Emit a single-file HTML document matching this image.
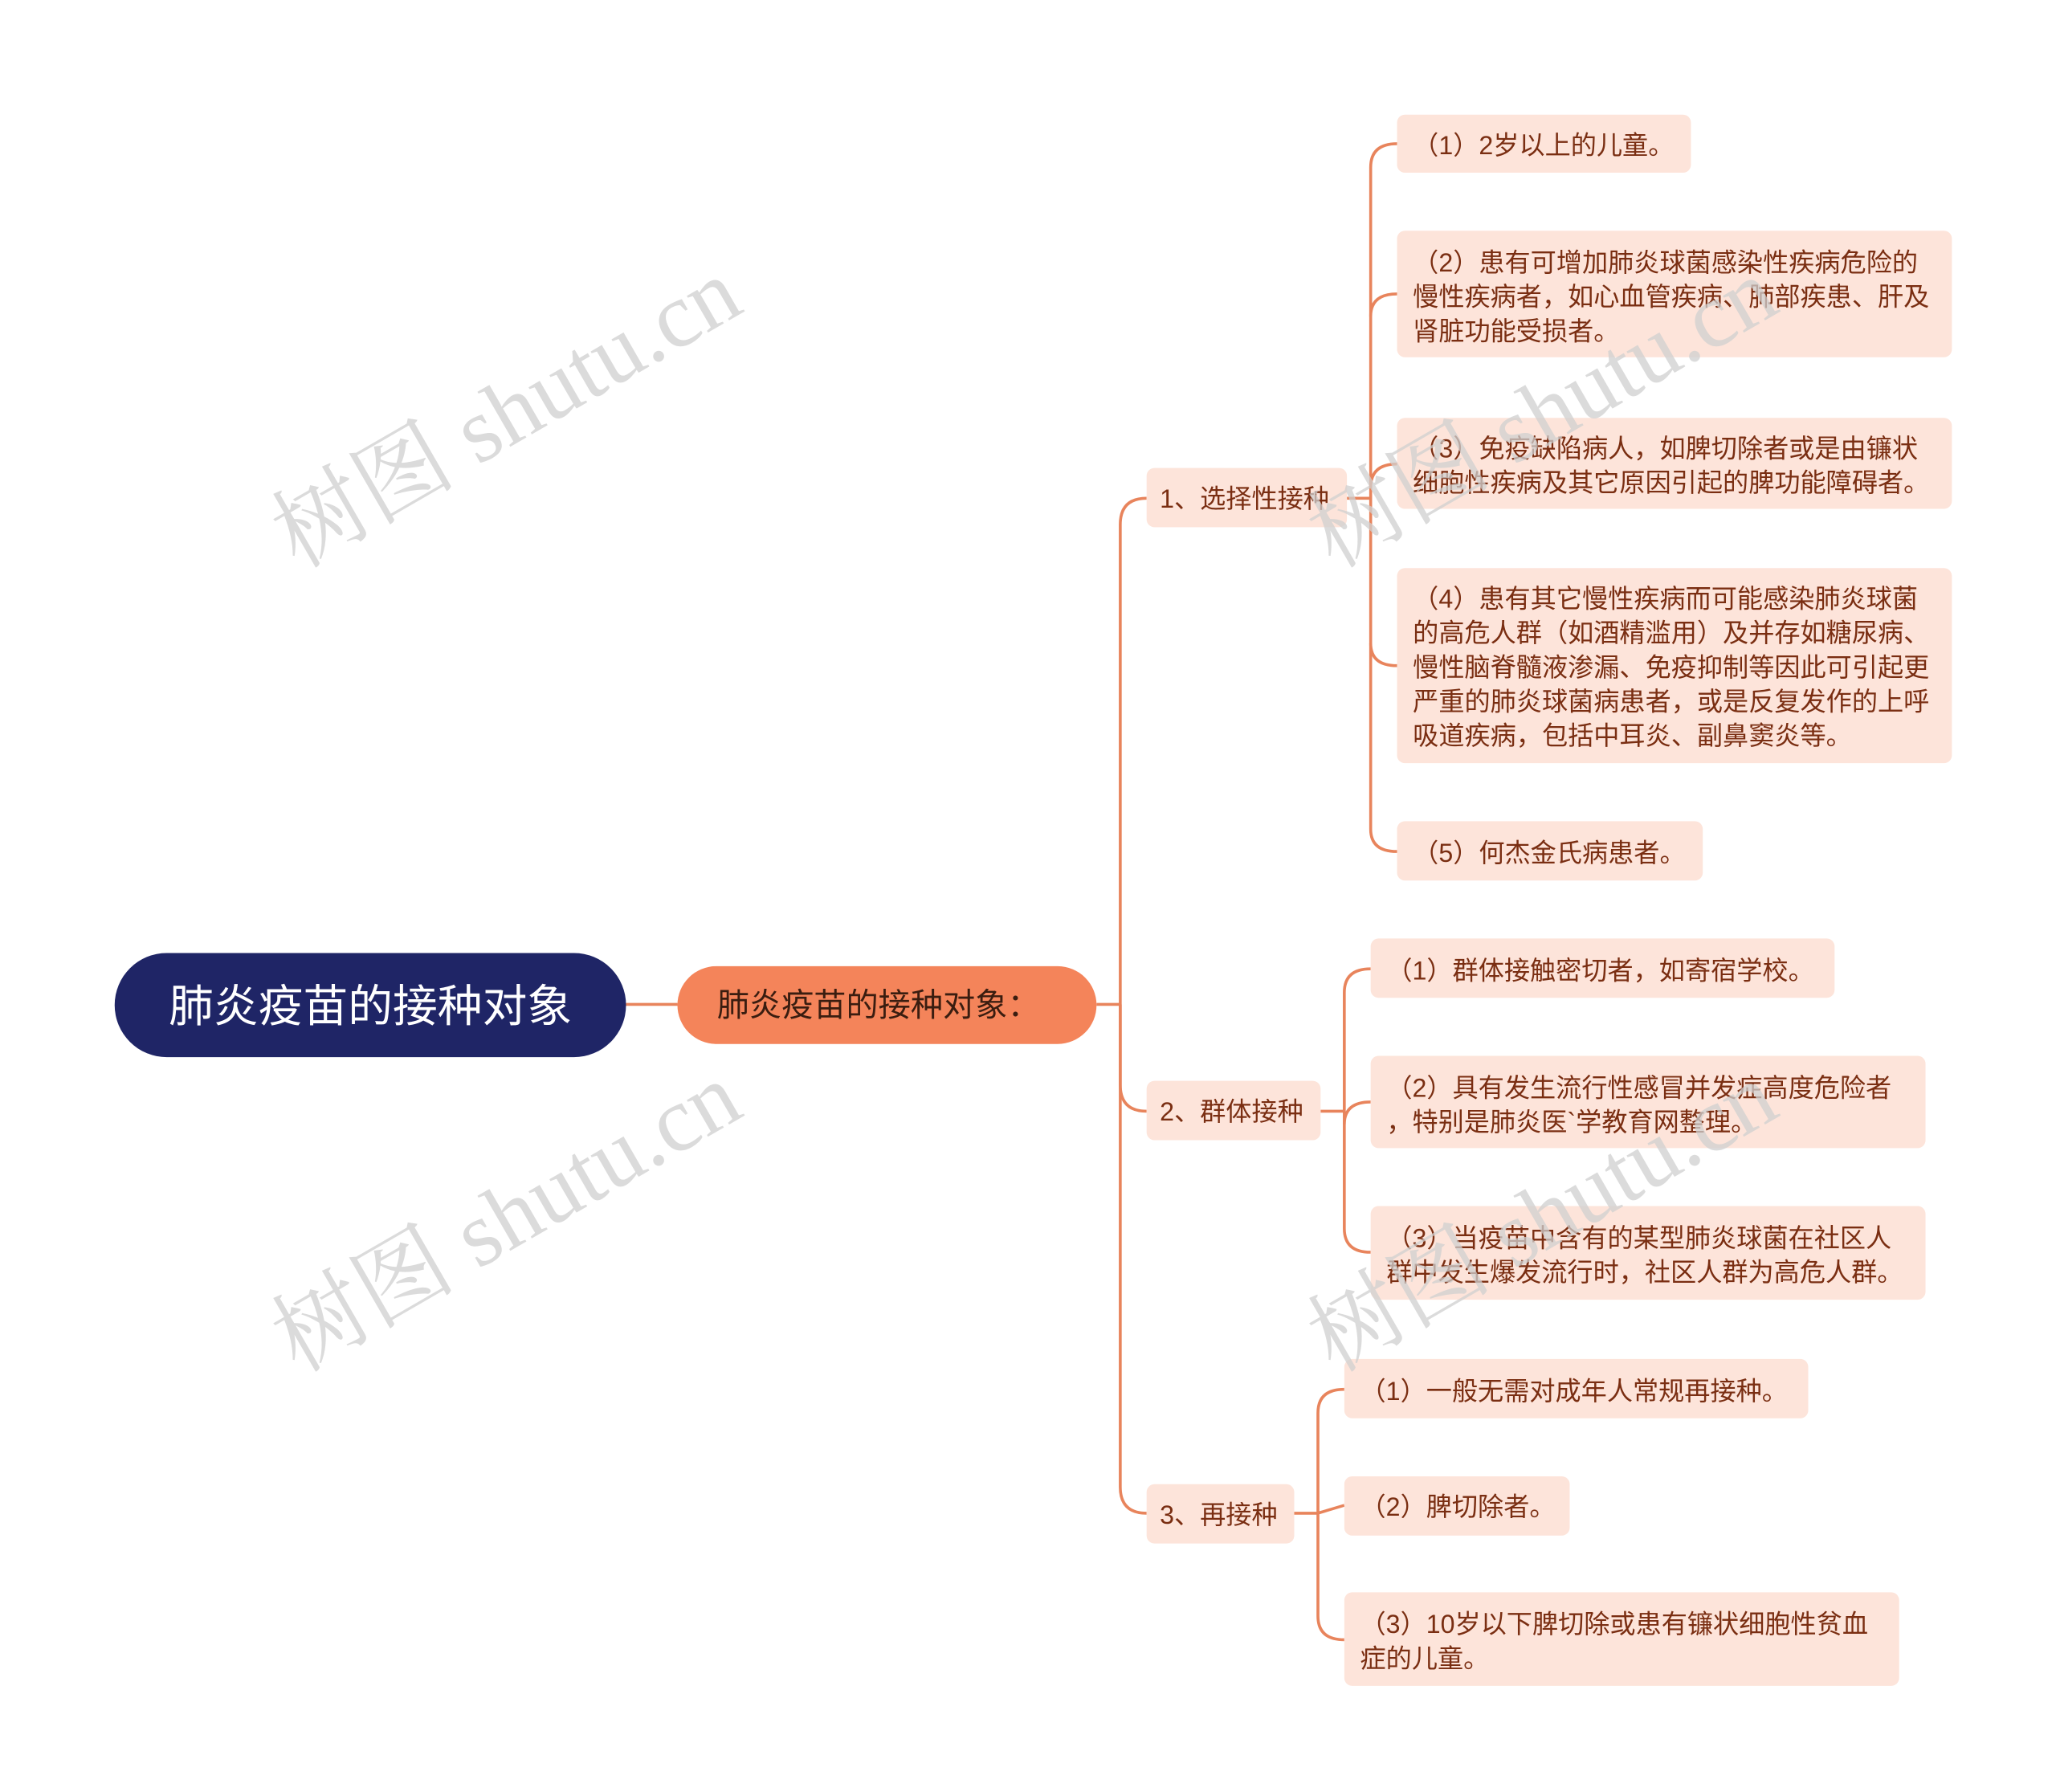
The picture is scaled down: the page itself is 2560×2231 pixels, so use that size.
<!DOCTYPE html>
<html><head><meta charset="utf-8"><style>
html,body{margin:0;padding:0;background:#fff;}
svg{display:block;}
text{font-family:"Liberation Sans","Noto Sans CJK SC",sans-serif;}
.leaf{fill:#fde4da;}
.t{font-size:19.6px;fill:#7a2e12;}
.c{fill:none;stroke:#e8845c;stroke-width:2.2;}
.wm{font-family:"Liberation Serif","Noto Serif CJK SC",serif;font-size:70px;fill:#d0d0d0;opacity:0.75;}
</style></head><body>
<svg width="2560" height="2231" viewBox="0 0 1560 1359.5" xmlns="http://www.w3.org/2000/svg">
<rect width="1560" height="1360" fill="#fff"/>
<path class="c" d="M475,762 L514,762"/>
<path class="c" d="M832,762 L850,762"/>
<path class="c" d="M850,762 L850,398 Q850,378 870,378"/>
<path class="c" d="M850,762 L850,823 Q850,843 870,843"/>
<path class="c" d="M850,762 L850,1128 Q850,1148 870,1148"/>
<path class="c" d="M1022,378 L1040,378"/>
<path class="c" d="M1060,109 Q1040,109 1040,127 L1040,629 Q1040,646 1060,646"/>
<path class="c" d="M1040,240 Q1040,223 1060,223"/>
<path class="c" d="M1040,370 Q1040,352 1060,352"/>
<path class="c" d="M1040,488 Q1040,505 1060,505"/>
<path class="c" d="M1002,843 L1020,843"/>
<path class="c" d="M1040,735 Q1020,735 1020,753 L1020,932 Q1020,950 1040,950"/>
<path class="c" d="M1020,853 Q1020,836 1040,836"/>
<path class="c" d="M982,1148 L1000,1148"/>
<path class="c" d="M1020,1054 Q1000,1054 1000,1072 L1000,1226 Q1000,1244 1020,1244"/>
<path class="c" d="M1000,1148 L1020,1142"/>
<rect x="87" y="723" width="388" height="79" rx="39.5" fill="#1f2566"/>
<text x="281" y="775" text-anchor="middle" font-size="34" fill="#fff">肺炎疫苗的接种对象</text>
<rect x="514" y="733" width="318" height="59" rx="29.5" fill="#f4845a"/>
<text x="544" y="771" font-size="24.5" fill="#3a1d10">肺炎疫苗的接种对象：</text>
<rect class="leaf" x="870" y="355" width="152" height="45" rx="6"/>
<text class="t" x="880" y="385">1、选择性接种</text>
<rect class="leaf" x="870" y="820" width="132" height="45" rx="6"/>
<text class="t" x="880" y="850">2、群体接种</text>
<rect class="leaf" x="870" y="1126" width="112" height="45" rx="6"/>
<text class="t" x="880" y="1156">3、再接种</text>
<rect class="leaf" x="1060" y="87" width="223" height="44" rx="6"/>
<text class="t" x="1072" y="117">（1）2岁以上的儿童。</text>
<rect class="leaf" x="1060" y="175" width="421" height="96" rx="6"/>
<text class="t" x="1072" y="206">（2）患有可增加肺炎球菌感染性疾病危险的</text>
<text class="t" x="1072" y="232">慢性疾病者，如心血管疾病、肺部疾患、肝及</text>
<text class="t" x="1072" y="258">肾脏功能受损者。</text>
<rect class="leaf" x="1060" y="317" width="421" height="69" rx="6"/>
<text class="t" x="1072" y="347">（3）免疫缺陷病人，如脾切除者或是由镰状</text>
<text class="t" x="1072" y="373">细胞性疾病及其它原因引起的脾功能障碍者。</text>
<rect class="leaf" x="1060" y="431" width="421" height="148" rx="6"/>
<text class="t" x="1072" y="461">（4）患有其它慢性疾病而可能感染肺炎球菌</text>
<text class="t" x="1072" y="487">的高危人群（如酒精滥用）及并存如糖尿病、</text>
<text class="t" x="1072" y="513">慢性脑脊髓液渗漏、免疫抑制等因此可引起更</text>
<text class="t" x="1072" y="539">严重的肺炎球菌病患者，或是反复发作的上呼</text>
<text class="t" x="1072" y="565">吸道疾病，包括中耳炎、副鼻窦炎等。</text>
<rect class="leaf" x="1060" y="623" width="232" height="45" rx="6"/>
<text class="t" x="1072" y="654">（5）何杰金氏病患者。</text>
<rect class="leaf" x="1040" y="712" width="352" height="45" rx="6"/>
<text class="t" x="1052" y="743">（1）群体接触密切者，如寄宿学校。</text>
<rect class="leaf" x="1040" y="801" width="421" height="70" rx="6"/>
<text class="t" x="1052" y="832">（2）具有发生流行性感冒并发症高度危险者</text>
<text class="t" x="1052" y="858">，特别是肺炎医`学教育网整理。</text>
<rect class="leaf" x="1040" y="915" width="421" height="71" rx="6"/>
<text class="t" x="1052" y="946">（3）当疫苗中含有的某型肺炎球菌在社区人</text>
<text class="t" x="1052" y="972">群中发生爆发流行时，社区人群为高危人群。</text>
<rect class="leaf" x="1020" y="1031" width="352" height="45" rx="6"/>
<text class="t" x="1032" y="1062">（1）一般无需对成年人常规再接种。</text>
<rect class="leaf" x="1020" y="1120" width="171" height="45" rx="6"/>
<text class="t" x="1032" y="1150">（2）脾切除者。</text>
<rect class="leaf" x="1020" y="1208" width="421" height="71" rx="6"/>
<text class="t" x="1032" y="1239">（3）10岁以下脾切除或患有镰状细胞性贫血</text>
<text class="t" x="1032" y="1265">症的儿童。</text>
<text class="wm" transform="translate(226,432) rotate(-30)">树图 shutu.cn</text>
<text class="wm" transform="translate(226,1042) rotate(-30)">树图 shutu.cn</text>
<text class="wm" transform="translate(1012,432) rotate(-30)">树图 shutu.cn</text>
<text class="wm" transform="translate(1012,1042) rotate(-30)">树图 shutu.cn</text>
</svg>
</body></html>
